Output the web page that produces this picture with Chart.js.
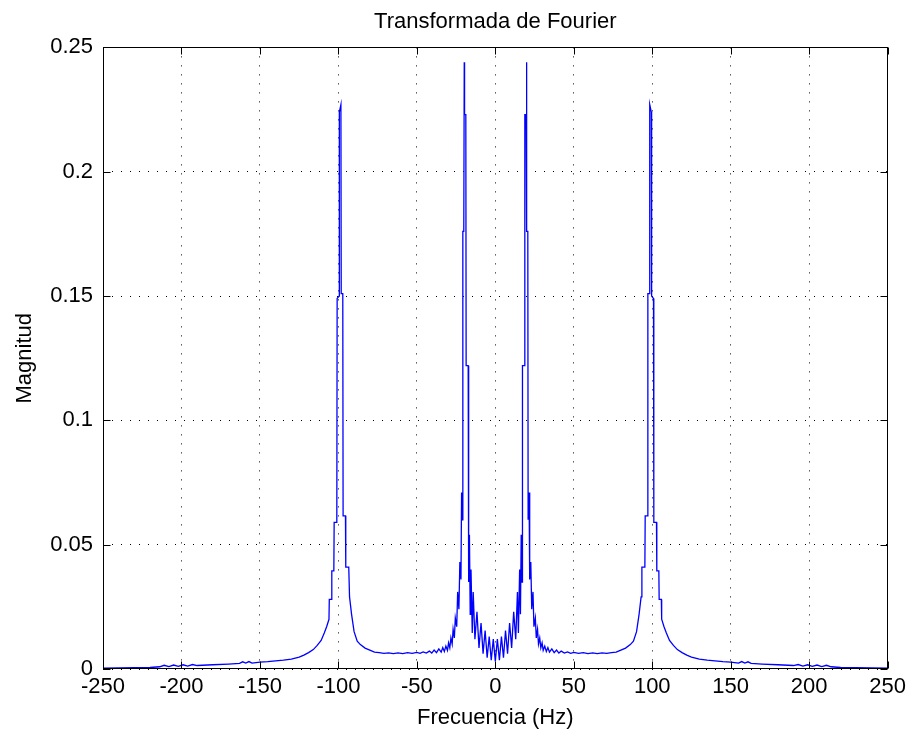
<!DOCTYPE html>
<html>
<head>
<meta charset="utf-8">
<title>Transformada de Fourier</title>
<script src="https://cdn.jsdelivr.net/npm/chart.js@4"></script>
<style>
  html, body { margin: 0; padding: 0; background: #fff; }
  #wrap { width: 911px; height: 737px; position: relative; }
</style>
</head>
<body>
<div id="wrap"><canvas id="fft"></canvas></div>
<script>
// magnitude spectrum, frequency in Hz
const freq = [
  -250.0, -240.0, -230.0, -220.0, -214.0, -211.0, -208.0, -205.0, -202.0, -199.0, -196.0, -193.0, -190.0,
  -180.0, -170.0, -163.0, -161.0, -159.0, -157.0, -155.0, -150.0, -145.0, -140.0, -135.0, -130.0, -125.0,
  -122.0, -119.0, -116.0, -113.5, -111.0, -109.0, -107.5, -106.0, -105.8, -104.4, -104.2, -102.9, -102.7,
  -101.0, -100.8, -99.6, -99.4, -98.4, -98.2, -97.2, -97.0, -95.5, -95.3, -93.4, -92.9, -91.6, -90.0,
  -88.0, -86.0, -83.0, -80.0, -77.0, -74.0, -71.0, -68.0, -65.0, -62.0, -59.0, -56.0, -53.0, -50.0,
  -48.0, -46.0, -44.0, -42.0, -40.5, -39.0, -37.5, -36.0, -34.5, -33.5, -32.5, -31.5, -30.5, -29.8,
  -29.0, -28.3, -27.5, -26.9, -26.1, -25.5, -24.6, -24.0, -23.2, -22.6, -21.9, -21.5, -20.9, -20.7,
  -20.1, -19.8, -19.6, -18.8, -18.6, -17.3, -17.0, -16.5, -16.0, -15.5, -14.7, -14.1, -13.0, -11.7,
  -10.4, -9.1, -7.8, -6.5, -5.2, -3.9, -2.6, -1.3,
  0.0, 1.3, 2.6, 3.9, 5.2, 6.5, 7.8, 9.1, 10.4, 11.7, 13.0, 14.1, 14.7, 15.5, 16.0, 16.5, 17.0, 17.3,
  18.6, 18.8, 19.6, 19.8, 20.1, 20.7, 20.9, 21.5, 21.9, 22.6, 23.2, 24.0, 24.6, 25.5, 26.1, 26.9, 27.5,
  28.3, 29.0, 29.8, 30.5, 31.5, 32.5, 33.5, 34.5, 36.0, 37.5, 39.0, 40.5, 42.0, 44.0, 46.0, 48.0, 50.0,
  53.0, 56.0, 59.0, 62.0, 65.0, 68.0, 71.0, 74.0, 77.0, 80.0, 83.0, 86.0, 88.0, 90.0, 91.6, 92.9, 93.4,
  95.3, 95.5, 97.0, 97.2, 98.2, 98.4, 99.4, 99.6, 100.8, 101.0, 102.7, 102.9, 104.2, 104.4, 105.8, 106.0,
  107.5, 109.0, 111.0, 113.5, 116.0, 119.0, 122.0, 125.0, 130.0, 135.0, 140.0, 145.0, 150.0, 155.0,
  157.0, 159.0, 161.0, 163.0, 170.0, 180.0, 190.0, 193.0, 196.0, 199.0, 202.0, 205.0, 208.0, 211.0,
  214.0, 220.0, 230.0, 240.0, 250.0
];

const mag = [
  0.0003, 0.0004, 0.0005, 0.0006, 0.0009, 0.0015, 0.0010, 0.0016, 0.0011, 0.0017, 0.0012, 0.0018, 0.0014,
  0.0017, 0.0020, 0.0023, 0.0029, 0.0024, 0.0030, 0.0024, 0.0028, 0.0030, 0.0033, 0.0036, 0.0040, 0.0048,
  0.0056, 0.0066, 0.0078, 0.0095, 0.0115, 0.0145, 0.0170, 0.0200, 0.0280, 0.0280, 0.0395, 0.0395, 0.0590,
  0.0590, 0.1490, 0.1500, 0.2240, 0.2270, 0.1510, 0.1510, 0.0616, 0.0616, 0.0410, 0.0410, 0.0290, 0.0220, 0.0150,
  0.0112, 0.0098, 0.0084, 0.0076, 0.0068, 0.0066, 0.0063, 0.0065, 0.0062, 0.0065, 0.0062, 0.0066, 0.0063, 0.0067,
  0.0063, 0.0069, 0.0064, 0.0072, 0.0064, 0.0076, 0.0066, 0.0081, 0.0068, 0.0086, 0.0070, 0.0092, 0.0075, 0.0105,
  0.0085, 0.0125, 0.0100, 0.0160, 0.0125, 0.0205, 0.0170, 0.0310, 0.0240, 0.0430, 0.0360, 0.0710, 0.0600, 0.1760,
  0.1760, 0.2440, 0.2230, 0.2230, 0.1220, 0.1220, 0.0350, 0.0540, 0.0220, 0.0400, 0.0145, 0.0310, 0.0120, 0.0230,
  0.0085, 0.0185, 0.0062, 0.0155, 0.0045, 0.0130, 0.0035, 0.0120,
  0.0030, 0.0120, 0.0035, 0.0130, 0.0045, 0.0155, 0.0062, 0.0185, 0.0085, 0.0230, 0.0120, 0.0310, 0.0145, 0.0400, 0.0220, 0.0540, 0.0350, 0.1220,
  0.1220, 0.2230, 0.2230, 0.2440, 0.1760, 0.1760, 0.0600, 0.0710, 0.0360, 0.0430, 0.0240, 0.0310, 0.0170, 0.0205, 0.0125, 0.0160, 0.0100,
  0.0125, 0.0085, 0.0105, 0.0075, 0.0092, 0.0070, 0.0086, 0.0068, 0.0081, 0.0066, 0.0076, 0.0064, 0.0072, 0.0064, 0.0069, 0.0063, 0.0067,
  0.0063, 0.0066, 0.0062, 0.0065, 0.0062, 0.0065, 0.0063, 0.0066, 0.0068, 0.0076, 0.0084, 0.0098, 0.0112, 0.0150, 0.0220, 0.0290, 0.0410,
  0.0410, 0.0616, 0.0616, 0.1510, 0.1510, 0.2270, 0.2240, 0.1500, 0.1490, 0.0590, 0.0590, 0.0395, 0.0395, 0.0280, 0.0280, 0.0200,
  0.0170, 0.0145, 0.0115, 0.0095, 0.0078, 0.0066, 0.0056, 0.0048, 0.0040, 0.0036, 0.0033, 0.0030, 0.0028, 0.0024,
  0.0030, 0.0024, 0.0029, 0.0023, 0.0020, 0.0017, 0.0014, 0.0018, 0.0012, 0.0017, 0.0011, 0.0016, 0.0010, 0.0015,
  0.0009, 0.0006, 0.0005, 0.0004, 0.0003
];

const xTicks = [-250, -200, -150, -100, -50, 0, 50, 100, 150, 200, 250];
const xTickLabels = ['-250', '-200', '-150', '-100', '-50', '0', '50', '100', '150', '200', '250'];
const yTicks = [0, 0.05, 0.1, 0.15, 0.2, 0.25];
const yTickLabels = ['0', '0.05', '0.1', '0.15', '0.2', '0.25'];

const FONT = '"Liberation Sans", Arial, sans-serif';
const FONT_SIZE = 22;
const TICK_LEN = 7;

Chart.defaults.font.family = FONT;
Chart.defaults.font.size = FONT_SIZE;
Chart.defaults.color = '#000';

// box around the axes with inward tick marks on all four sides
const axesBox = {
  id: 'axesBox',
  afterDraw(chart) {
    const { ctx, chartArea: a, scales } = chart;
    const left = Math.round(a.left) + 0.5;
    const right = Math.round(a.right) - 0.5;
    const top = Math.round(a.top) + 0.5;
    const bottom = Math.round(a.bottom) - 0.5;
    ctx.save();
    ctx.strokeStyle = '#000';
    ctx.lineWidth = 1;
    ctx.beginPath();
    xTicks.forEach(v => {
      const px = Math.round(scales.x.getPixelForValue(v)) + 0.5;
      ctx.moveTo(px, bottom);
      ctx.lineTo(px, bottom - TICK_LEN);
      ctx.moveTo(px, top);
      ctx.lineTo(px, top + TICK_LEN);
    });
    yTicks.forEach(v => {
      const py = Math.round(scales.y.getPixelForValue(v)) + 0.5;
      ctx.moveTo(left, py);
      ctx.lineTo(left + TICK_LEN, py);
      ctx.moveTo(right, py);
      ctx.lineTo(right - TICK_LEN, py);
    });
    ctx.stroke();
    ctx.strokeRect(left, top, right - left, bottom - top);
    ctx.restore();
  }
};

const points = freq.map((f, i) => ({ x: f, y: mag[i] }));

new Chart(document.getElementById('fft'), {
  type: 'line',
  data: {
    datasets: [{
      data: points,
      borderColor: '#0000ff',
      borderWidth: 1.3,
      pointRadius: 0,
      tension: 0,
      fill: false
    }]
  },
  options: {
    responsive: true,
    maintainAspectRatio: false,
    animation: false,
    layout: { padding: { left: 0, right: 21, top: 0, bottom: 0 } },
    plugins: {
      legend: { display: false },
      tooltip: { enabled: false },
      title: {
        display: true,
        fullSize: false,
        text: 'Transformada de Fourier',
        font: { size: FONT_SIZE, weight: 'normal' },
        color: '#000',
        padding: { top: 9, bottom: 12 }
      }
    },
    scales: {
      x: {
        type: 'linear',
        min: -250,
        max: 250,
        afterBuildTicks: s => { s.ticks = xTicks.map(v => ({ value: v })); },
        afterFit: s => { s.height = 68; },
        ticks: {
          padding: 5,
          maxRotation: 0,
          autoSkip: false,
          callback: (v, i) => xTickLabels[i]
        },
        grid: { color: '#000', lineWidth: 1, drawTicks: false },
        border: { display: false, dash: [1, 8] },
        title: {
          display: true,
          text: 'Frecuencia (Hz)',
          font: { size: FONT_SIZE },
          padding: { top: 0, bottom: 6 }
        }
      },
      y: {
        type: 'linear',
        min: 0,
        max: 0.25,
        afterBuildTicks: s => { s.ticks = yTicks.map(v => ({ value: v })); },
        afterFit: s => { s.width = 103; },
        ticks: {
          padding: 10,
          autoSkip: false,
          callback: (v, i) => yTickLabels[i]
        },
        grid: { color: '#000', lineWidth: 1, drawTicks: false },
        border: { display: false, dash: [1, 8] },
        title: {
          display: true,
          text: 'Magnitud',
          font: { size: FONT_SIZE },
          padding: { top: 12, bottom: 0 }
        }
      }
    }
  },
  plugins: [axesBox]
});
</script>
</body>
</html>
